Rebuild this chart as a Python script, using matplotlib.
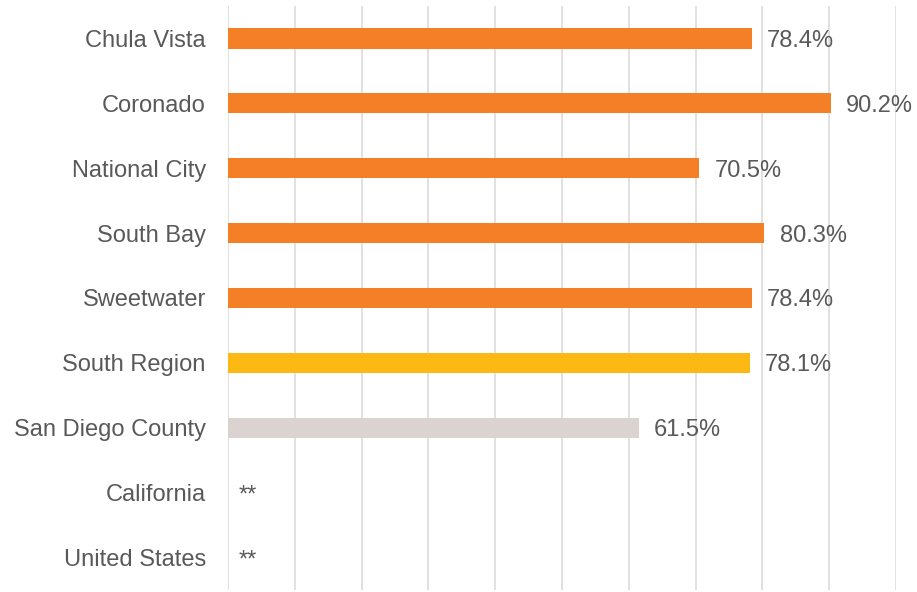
import matplotlib
matplotlib.use("Agg")
import matplotlib.pyplot as plt

plt.rcParams["font.family"] = ["Liberation Sans", "DejaVu Sans"]

# data
categories = ["Chula Vista", "Coronado", "National City", "South Bay", "Sweetwater",
              "South Region", "San Diego County", "California", "United States"]
values = [78.4, 90.2, 70.5, 80.3, 78.4, 78.1, 61.5, None, None]
labels = ["78.4%", "90.2%", "70.5%", "80.3%", "78.4%", "78.1%", "61.5%", "**", "**"]
colors = ["#F47F26"] * 5 + ["#FDB913", "#DAD3CF", "#FFFFFF", "#FFFFFF"]

text_color = "#595959"

fig = plt.figure(figsize=(9.17, 5.92), dpi=100)
ax = fig.add_axes([228 / 917, 2 / 592, (896 - 228) / 917, (586 - 2) / 592])

ypos = list(range(len(categories)))
bar_vals = [v if v is not None else 0 for v in values]
ax.barh(ypos, bar_vals, height=0.31, color=colors, zorder=2)

for y, v, lab in zip(ypos, values, labels):
    x = (v if v is not None else 0) + (2.3 if v is not None else 1.6)
    ax.text(x, y, lab, va="center_baseline", ha="left", fontsize=17, color=text_color)

ax.set_xlim(0, 100)
ax.set_ylim(len(categories) - 0.5, -0.5)
ax.set_xticks(range(0, 101, 10))
ax.set_xticklabels([])
ax.tick_params(axis="x", length=0)
ax.tick_params(axis="y", length=0, pad=16, labelsize=17, labelcolor=text_color)
ax.set_yticks(ypos)
ax.set_yticklabels(categories)
ax.grid(axis="x", color="#DCDCDC", linewidth=1.2, zorder=0)
for s in ax.spines.values():
    s.set_visible(False)

fig.savefig("out.png", dpi=100)
